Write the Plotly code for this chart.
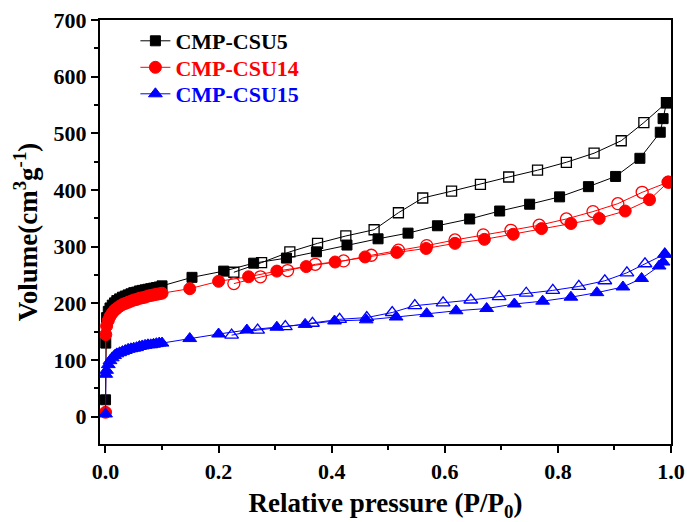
import plotly.graph_objects as go

# ---- data ----
low_p = [0.0001, 0.0005, 0.002, 0.005, 0.008, 0.012, 0.016, 0.02, 0.025, 0.03, 0.035,
         0.04, 0.045, 0.05, 0.055, 0.06, 0.065, 0.07, 0.075, 0.08, 0.085, 0.09, 0.095, 0.1]

csu5_ads_x = low_p + [0.153, 0.209, 0.262, 0.320, 0.373, 0.427, 0.482, 0.535, 0.587, 0.644,
                      0.697, 0.750, 0.803, 0.854, 0.902, 0.945, 0.981, 0.986, 0.992]
csu5_ads_y = [30, 130, 175, 186, 192, 197, 201, 205, 208, 211, 213, 215, 217, 219, 220, 222,
              223, 224, 225, 226, 227, 228, 229, 231,
              246, 257, 271, 280, 291, 303, 314, 324, 337, 349,
              363, 375, 388, 406, 424, 456, 502, 526, 554]
csu5_des_x = [0.992, 0.952, 0.912, 0.864, 0.815, 0.764, 0.713, 0.663, 0.612, 0.561, 0.518,
              0.475, 0.425, 0.375, 0.326, 0.276, 0.227]
csu5_des_y = [554, 519, 487, 465, 449, 435, 423, 410, 398, 386, 360,
              330, 319, 306, 291, 272, 255]

csu14_ads_x = low_p + [0.149, 0.200, 0.253, 0.303, 0.355, 0.406, 0.459, 0.515, 0.567, 0.618,
                       0.670, 0.721, 0.771, 0.823, 0.873, 0.919, 0.962, 0.995]
csu14_ads_y = [8, 145, 160, 170, 177, 183, 188, 191, 195, 198, 200, 202, 204, 206, 207, 209,
               210, 211, 213, 214, 215, 216, 217, 218,
               226, 239, 247, 257, 265, 273, 282, 290, 297, 306,
               313, 322, 332, 341, 350, 363, 383, 414]
csu14_des_x = [0.995, 0.949, 0.906, 0.862, 0.815, 0.767, 0.717, 0.668, 0.618, 0.568, 0.518,
               0.470, 0.421, 0.371, 0.322, 0.274, 0.227]
csu14_des_y = [414, 396, 376, 362, 349, 338, 329, 321, 312, 302, 294,
               285, 275, 269, 258, 247, 235]

csu15_ads_x = low_p + [0.149, 0.200, 0.250, 0.303, 0.353, 0.405, 0.461, 0.514, 0.568, 0.620,
                       0.674, 0.723, 0.773, 0.823, 0.869, 0.915, 0.948, 0.979, 0.986, 0.989]
csu15_ads_y = [5, 75, 82, 92, 99, 104, 108, 111, 113, 115, 117, 119, 120, 121, 122, 124,
               125, 126, 127, 127, 128, 129, 130, 130,
               138, 146, 153, 158, 163, 169, 171, 176, 182, 187,
               191, 199, 204, 211, 219, 229, 244, 266, 273, 287]
csu15_des_x = [0.989, 0.954, 0.922, 0.883, 0.837, 0.791, 0.744, 0.696, 0.646, 0.597, 0.547,
               0.507, 0.462, 0.414, 0.366, 0.318, 0.269, 0.223]
csu15_des_y = [287, 270, 254, 240, 230, 223, 218, 212, 206, 201, 196,
               184, 175, 172, 165, 159, 153, 144]

x_ticks = [0, 0.2, 0.4, 0.6, 0.8, 1.0]
x_ticklabels = ["0.0", "0.2", "0.4", "0.6", "0.8", "1.0"]
y_ticks = [0, 100, 200, 300, 400, 500, 600, 700]

names = ["CMP-CSU5", "CMP-CSU14", "CMP-CSU15"]
colors = ["#000000", "#ff0000", "#0000ff"]
symbols = ["square", "circle", "triangle-up"]
sizes = [10, 12, 12]

ads = [(csu5_ads_x, csu5_ads_y), (csu14_ads_x, csu14_ads_y), (csu15_ads_x, csu15_ads_y)]
des = [(csu5_des_x, csu5_des_y), (csu14_des_x, csu14_des_y), (csu15_des_x, csu15_des_y)]

FONT = "Liberation Serif, Times New Roman, serif"
legend_ids = ["legend", "legend2", "legend3"]
legend_y = [1.0, 0.9375, 0.875]

fig = go.Figure()
for i in range(3):
    fig.add_trace(go.Scatter(
        x=ads[i][0], y=ads[i][1], mode="lines+markers",
        name=names[i], legend=legend_ids[i],
        line=dict(color=colors[i], width=1),
        marker=dict(symbol=symbols[i], size=sizes[i], color=colors[i],
                    line=dict(color=colors[i], width=1)),
        showlegend=True))
for i in range(3):
    fig.add_trace(go.Scatter(
        x=des[i][0], y=des[i][1], mode="lines+markers",
        line=dict(color=colors[i], width=1),
        marker=dict(symbol=symbols[i] + "-open", size=sizes[i], color=colors[i],
                    line=dict(color=colors[i], width=1.3)),
        showlegend=False))

axis_common = dict(
    showline=True, linecolor="black", linewidth=2, mirror=True,
    ticks="outside", ticklen=7, tickwidth=2, tickcolor="black",
    showgrid=False, zeroline=False, automargin=False,
    tickfont=dict(family=FONT, size=22, color="black", weight="bold"),
)

legends = {}
for i in range(3):
    legends[legend_ids[i]] = dict(
        x=0.062, y=legend_y[i], xanchor="left", yanchor="top",
        bgcolor="rgba(0,0,0,0)", borderwidth=0,
        font=dict(family=FONT, size=22, color=colors[i], weight="bold"))

fig.update_layout(
    width=687, height=522,
    margin=dict(l=100, r=16, t=20, b=78),
    paper_bgcolor="white", plot_bgcolor="white",
    font=dict(family=FONT, color="black"),
    xaxis=dict(range=[-0.0097, 1.0], tickvals=x_ticks, ticktext=x_ticklabels,
               minor=dict(dtick=0.1, tick0=0, ticks="outside", ticklen=4, tickwidth=2, tickcolor="black"),
               title=dict(text="Relative pressure (P/P<sub>0</sub>)",
                          font=dict(family=FONT, size=27, color="black", weight="bold"),
                          standoff=18),
               **axis_common),
    yaxis=dict(range=[-48, 700], tickvals=y_ticks,
               minor=dict(dtick=50, tick0=0, ticks="outside", ticklen=4, tickwidth=2, tickcolor="black"),
               title=dict(text="Volume(cm<sup>3</sup>g<sup>-1</sup>)",
                          font=dict(family=FONT, size=27, color="black", weight="bold"),
                          standoff=8),
               **axis_common),
    **legends,
)

fig.write_html("out.html", config={"displayModeBar": False},
               post_script="document.body.style.margin='0';")
